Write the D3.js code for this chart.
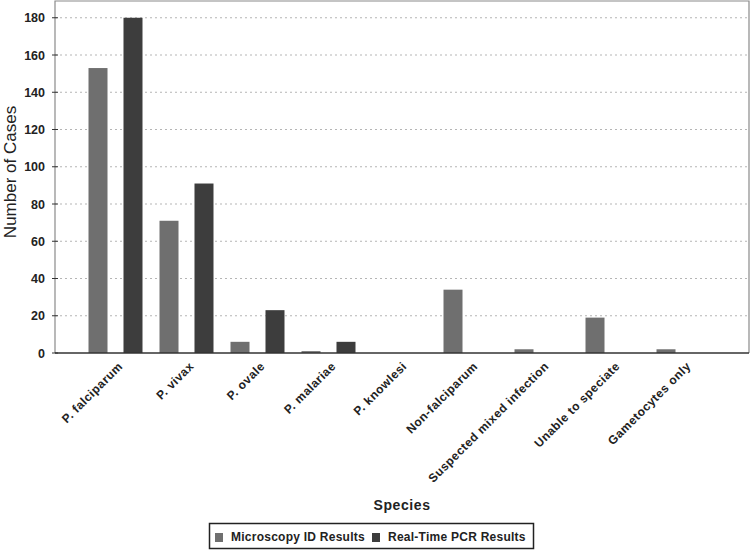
<!DOCTYPE html>
<html><head><meta charset="utf-8">
<script src="https://cdn.jsdelivr.net/npm/d3@7"></script>
<style>body{margin:0;background:#fff}svg{display:block}text{font-family:"Liberation Sans",Arial,sans-serif}</style>
</head><body><svg id="c" width="750" height="552"></svg>
<script>
const categories = ["P. falciparum","P. vivax","P. ovale","P. malariae","P. knowlesi","Non-falciparum","Suspected mixed infection","Unable to speciate","Gametocytes only"];
const seriesNames = ["Microscopy ID Results","Real-Time PCR Results"];
const microscopy = [153,71,6,1,0,34,2,19,2];
const pcr = [180,91,23,6,0,0,0,0,0];
const yTicks = [0,20,40,60,80,100,120,140,160,180];
const colors = ["#6f6f6f","#3d3d3d"];

const svg = d3.select("#c");
const L=55,R=749,T=1,B=353;
const x = d3.scaleBand().domain(categories).range([L+25,R-30]).paddingInner(0).paddingOuter(0);
const xs = d3.scaleBand().domain(seriesNames).range([0,x.bandwidth()]).paddingInner(0.457).paddingOuter(0.243);
const y = d3.scaleLinear().domain([0,189]).range([B,T]);

// grid
svg.append("g").selectAll("line").data(yTicks.filter(d=>d>0)).join("line")
 .attr("x1",L).attr("x2",R).attr("y1",d=>y(d)).attr("y2",d=>y(d))
 .attr("stroke","#b5b5b5").attr("stroke-dasharray","2,3").attr("stroke-width",1);

// frame
svg.append("path").attr("d",`M${L},${B}V${T}H${R}V${B}`).attr("fill","none").attr("stroke","#8a8a8a").attr("stroke-width",1.2);

// y ticks
svg.append("g").selectAll("line").data(yTicks).join("line")
 .attr("x1",L-3).attr("x2",L+3).attr("y1",d=>y(d)).attr("y2",d=>y(d)).attr("stroke","#333");

// bars
const data = categories.map((c,i)=>({c,vals:[microscopy[i],pcr[i]]}));
const g = svg.append("g").selectAll("g").data(data).join("g").attr("transform",d=>`translate(${x(d.c)},0)`);
g.selectAll("rect").data(d=>d.vals.map((v,j)=>({v,s:seriesNames[j],j}))).join("rect")
 .attr("x",d=>xs(d.s)).attr("width",xs.bandwidth())
 .attr("y",d=>y(d.v)).attr("height",d=>B-y(d.v))
 .attr("fill",d=>colors[d.j]);

// zero line
svg.append("line").attr("x1",L).attr("x2",R).attr("y1",B).attr("y2",B).attr("stroke","#333").attr("stroke-width",1.5);

// y axis labels
svg.append("g").selectAll("text").data(yTicks).join("text")
 .attr("x",45).attr("y",d=>y(d)).attr("dy","0.36em").attr("text-anchor","end")
 .attr("font-size",12.5).attr("font-weight","bold").attr("fill","#222").text(d=>d);

// x labels
svg.append("g").selectAll("text").data(categories).join("text")
 .attr("transform",c=>`translate(${x(c)+x.bandwidth()/2+8},${B+14}) rotate(-45)`)
 .attr("text-anchor","end").attr("font-size",12).attr("letter-spacing",0.5).attr("font-weight","bold").attr("fill","#222").text(c=>c);

// axis titles
svg.append("text").attr("transform",`translate(16,172) rotate(-90)`).attr("text-anchor","middle")
 .attr("font-size",17).attr("fill","#222").text("Number of Cases");
svg.append("text").attr("x",(L+R)/2).attr("y",510).attr("text-anchor","middle")
 .attr("font-size",14).attr("letter-spacing",0.6).attr("font-weight","bold").attr("fill","#222").text("Species");

// legend
const lg = svg.append("g");
lg.append("rect").attr("x",209.5).attr("y",523.5).attr("width",324).attr("height",25).attr("fill","#fff").attr("stroke","#222").attr("stroke-width",1.5);
const lx=[214,371];
seriesNames.forEach((s,i)=>{
  lg.append("rect").attr("x",lx[i]+1).attr("y",533).attr("width",8).attr("height",9).attr("fill",colors[i]);
  lg.append("text").attr("x",lx[i]+17).attr("y",541).attr("font-size",12).attr("letter-spacing",0.25).attr("font-weight","bold").attr("fill","#222").text(s);
});
</script></body></html>
